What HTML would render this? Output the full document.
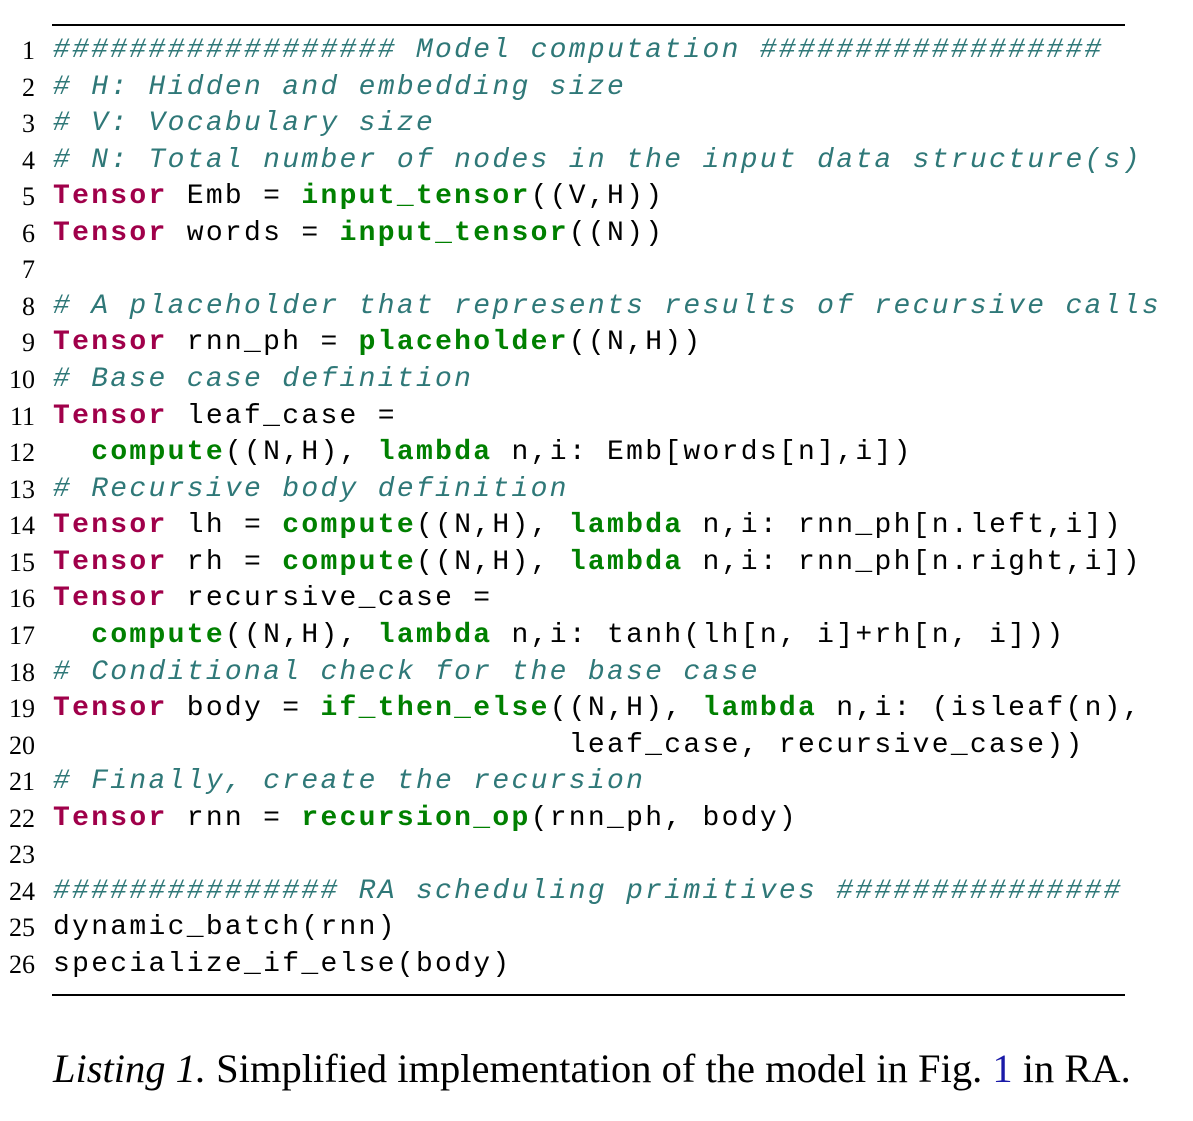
<!DOCTYPE html>
<html><head><meta charset="utf-8"><style>
body{margin:0;background:#fff;width:1193px;height:1121px;position:relative;overflow:hidden}
.rule{position:absolute;left:52px;width:1073px;height:2px;background:#000}
.ln{position:absolute;left:0;width:35px;text-align:right;font-family:"Liberation Serif",serif;font-size:26px;line-height:36px}
.cd{position:absolute;left:53px;white-space:pre;font-family:"Liberation Mono",monospace;font-size:28px;letter-spacing:2.3px;line-height:36px;color:#000}
.k{color:#a0004a;font-weight:bold}
.f{color:#008000;font-weight:bold}
.c{color:#2f7878;font-style:italic}
.cap{position:absolute;left:53px;top:1045px;font-family:"Liberation Serif",serif;font-size:40.5px;white-space:nowrap}
</style></head><body>
<div class="rule" style="top:24px"></div>
<div class="rule" style="top:994px"></div>
<div id="c"></div>
<script>
var L=[
'<span class="c">################## Model computation ##################</span>',
'<span class="c"># H: Hidden and embedding size</span>',
'<span class="c"># V: Vocabulary size</span>',
'<span class="c"># N: Total number of nodes in the input data structure(s)</span>',
'<span class="k">Tensor</span> Emb = <span class="f">input_tensor</span>((V,H))',
'<span class="k">Tensor</span> words = <span class="f">input_tensor</span>((N))',
'',
'<span class="c"># A placeholder that represents results of recursive calls</span>',
'<span class="k">Tensor</span> rnn_ph = <span class="f">placeholder</span>((N,H))',
'<span class="c"># Base case definition</span>',
'<span class="k">Tensor</span> leaf_case =',
'  <span class="f">compute</span>((N,H), <span class="f">lambda</span> n,i: Emb[words[n],i])',
'<span class="c"># Recursive body definition</span>',
'<span class="k">Tensor</span> lh = <span class="f">compute</span>((N,H), <span class="f">lambda</span> n,i: rnn_ph[n.left,i])',
'<span class="k">Tensor</span> rh = <span class="f">compute</span>((N,H), <span class="f">lambda</span> n,i: rnn_ph[n.right,i])',
'<span class="k">Tensor</span> recursive_case =',
'  <span class="f">compute</span>((N,H), <span class="f">lambda</span> n,i: tanh(lh[n, i]+rh[n, i]))',
'<span class="c"># Conditional check for the base case</span>',
'<span class="k">Tensor</span> body = <span class="f">if_then_else</span>((N,H), <span class="f">lambda</span> n,i: (isleaf(n),',
'                           leaf_case, recursive_case))',
'<span class="c"># Finally, create the recursion</span>',
'<span class="k">Tensor</span> rnn = <span class="f">recursion_op</span>(rnn_ph, body)',
'',
'<span class="c">############### RA scheduling primitives ###############</span>',
'dynamic_batch(rnn)',
'specialize_if_else(body)'];
var h='';
for(var i=0;i<L.length;i++){var t=33+i*36.56;
h+='<div class="ln" style="top:'+t+'px">'+(i+1)+'</div><div class="cd" style="top:'+t+'px">'+L[i]+'</div>';}
document.getElementById('c').innerHTML=h;
</script>
<div class="cap"><i>Listing 1.</i> Simplified implementation of the model in Fig. <span style="color:#1a1aa8">1</span> in RA.</div>
</body></html>
